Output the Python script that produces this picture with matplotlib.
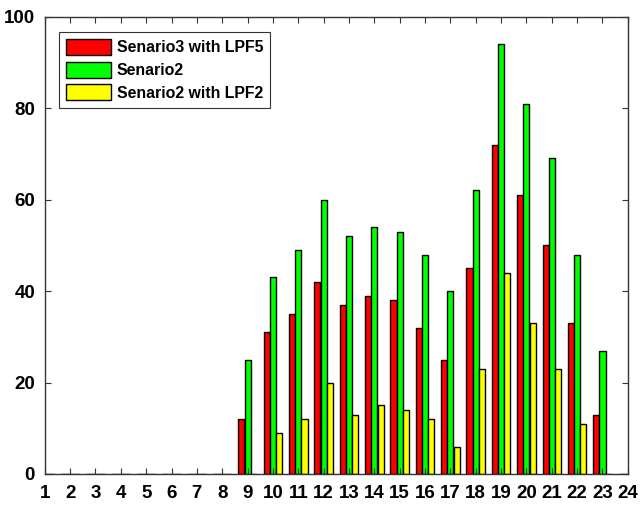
import numpy as np
import matplotlib.pyplot as plt

plt.rcParams['font.family'] = ['Liberation Sans', 'DejaVu Sans']
plt.rcParams['font.weight'] = 'bold'

categorie = np.arange(1, 25)
senario3_lpf5 = [0, 0, 0, 0, 0, 0, 0, 0, 12, 31, 35, 42, 37, 39, 38, 32, 25, 45, 72, 61, 50, 33, 13, 0]
senario2 = [0, 0, 0, 0, 0, 0, 0, 0, 25, 43, 49, 60, 52, 54, 53, 48, 40, 62, 94, 81, 69, 48, 27, 0]
senario2_lpf2 = [0, 0, 0, 0, 0, 0, 0, 0, 0, 9, 12, 20, 13, 15, 14, 12, 6, 23, 44, 33, 23, 11, 0, 0]
etichette = ["Senario3 with LPF5", "Senario2", "Senario2 with LPF2"]

fig = plt.figure(figsize=(6.4, 5.08), dpi=100)
ax = fig.add_axes([0.070, 0.067, 0.911, 0.900])

w = 0.24
off = 0.245
ax.bar(categorie - off, senario3_lpf5, w, color='#ff0000', edgecolor='black', linewidth=1, label=etichette[0])
ax.bar(categorie, senario2, w, color='#00ff00', edgecolor='black', linewidth=1, label=etichette[1])
ax.bar(categorie + off, senario2_lpf2, w, color='#ffff00', edgecolor='black', linewidth=1, label=etichette[2])

ax.set_xlim(1, 24)
ax.set_ylim(0, 100)
ax.set_xticks(categorie)
ax.set_yticks([0, 20, 40, 60, 80, 100])
ax.tick_params(direction='in', top=True, right=True, length=4, color='#333333', labelsize=13.5)
ax.tick_params(axis='x', pad=8)
ax.tick_params(axis='y', pad=7)
for s in ax.spines.values():
    s.set_color('#333333')
    s.set_linewidth(1)

leg = ax.legend(loc='upper left', bbox_to_anchor=(14 / 583, 1 - 15 / 457), borderaxespad=0,
                prop={'size': 11.4, 'weight': 'bold'}, fancybox=False,
                edgecolor='#333333', framealpha=1, handlelength=2.85, handleheight=1.18,
                borderpad=0.45, labelspacing=0.4, handletextpad=0.35)
leg.get_frame().set_linewidth(0.8)

plt.savefig("out.png", dpi=100)
